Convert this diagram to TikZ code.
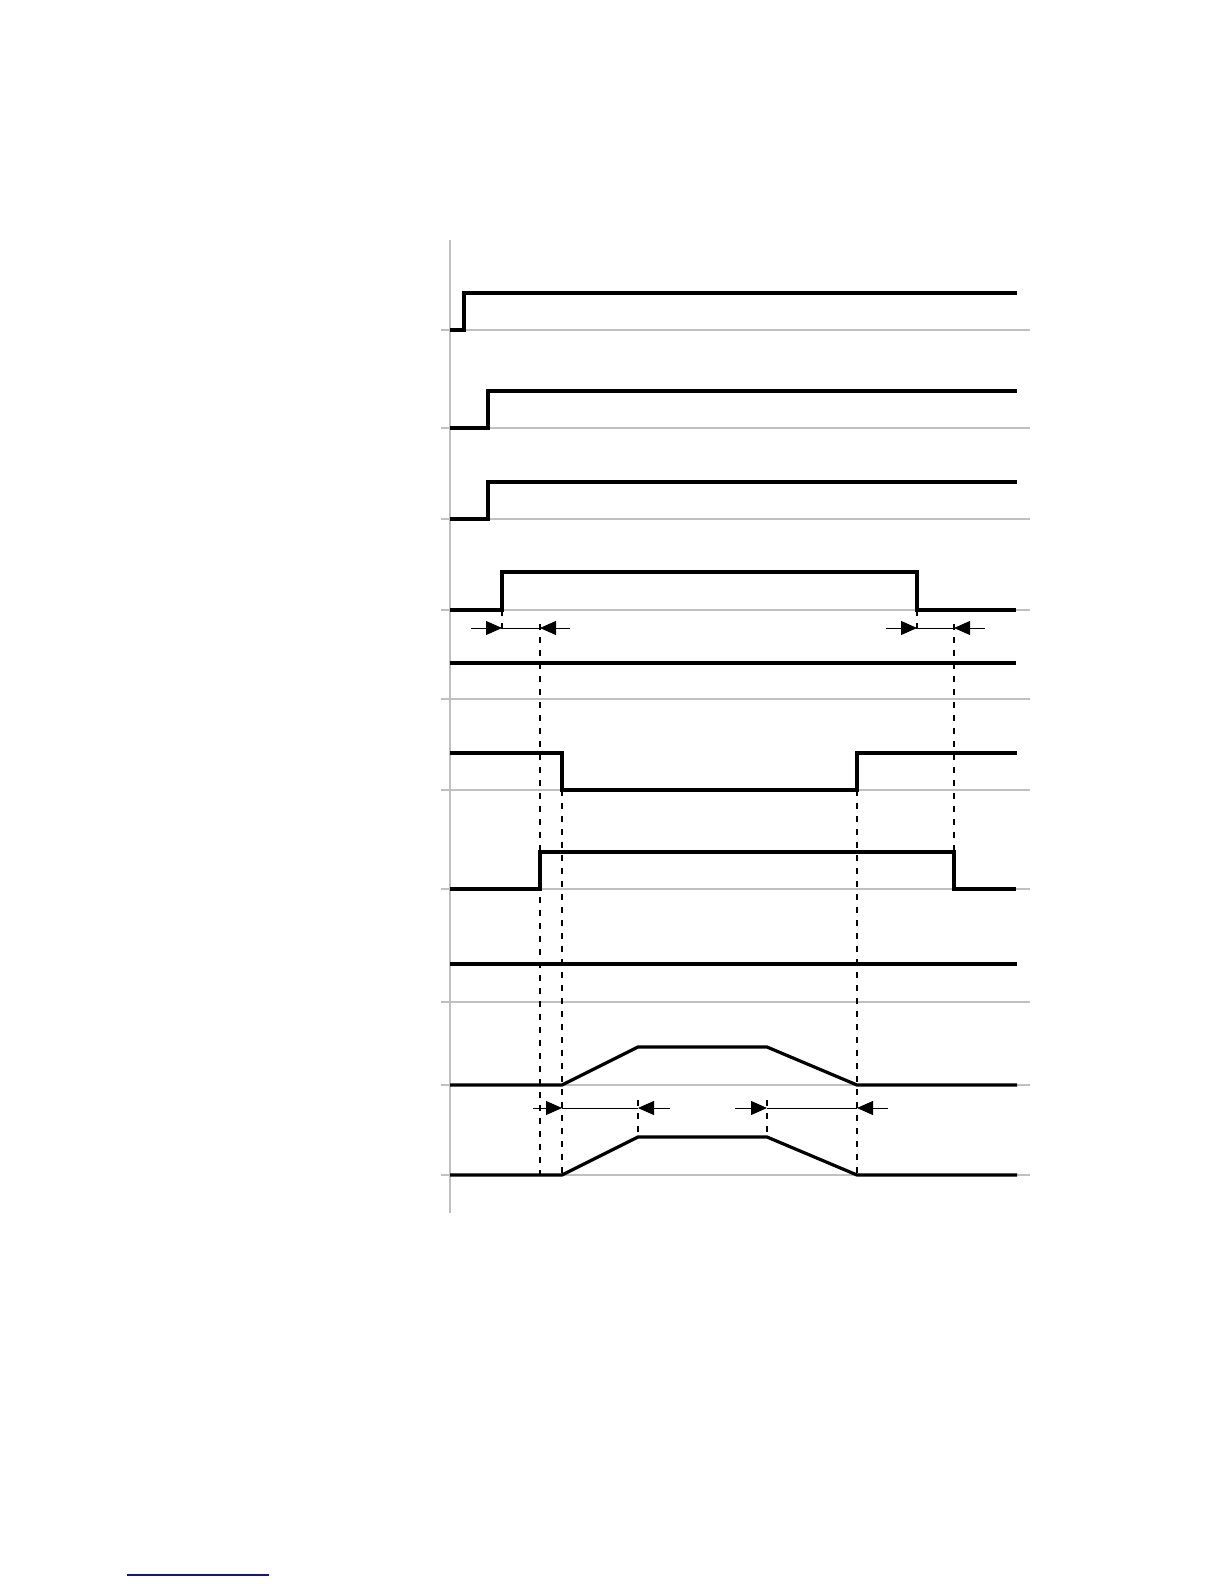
\documentclass[tikz,border=0pt]{standalone}
\usetikzlibrary{arrows.meta}
\definecolor{gridgray}{RGB}{192,192,192}
\definecolor{linkblue}{RGB}{20,20,140}

\begin{document}
\begin{tikzpicture}[x=0.5pt, y=-0.5pt, >={Triangle[length=8pt,width=7pt]},
  sig/.style={line width=1.6pt, line join=miter},
  base/.style={draw=gridgray, line width=0.75pt},
  guide/.style={dash pattern=on 3pt off 3.5pt, line width=0.7pt},
  dim/.style={line width=0.5pt}]
\useasboundingbox (0,0) rectangle (1224,1584);

% axis and baselines
\draw[base] (450,240) -- (450,1213);
\foreach \y in {330,428,519,610,699,790,889,1002,1085,1175}
  \draw[base] (441,\y) -- (1030,\y);

% signals
\draw[sig] (450,330) -- (464,330) -- (464,293) -- (1017,293);
\draw[sig] (450,428) -- (488,428) -- (488,391) -- (1017,391);
\draw[sig] (450,519) -- (488,519) -- (488,482) -- (1017,482);
\draw[sig] (450,610) -- (502,610) -- (502,572) -- (917,572) -- (917,610) -- (1016,610);
\draw[sig] (450,663) -- (1016,663);
\draw[sig] (450,753) -- (562,753) -- (562,790) -- (857,790) -- (857,753) -- (1017,753);
\draw[sig] (450,889) -- (540,889) -- (540,852) -- (954,852) -- (954,889) -- (1016,889);
\draw[sig] (450,964) -- (1017,964);
\draw[sig] (450,1085) -- (562,1085) -- (638,1047) -- (767,1047) -- (857,1085) -- (1017,1085);
\draw[sig] (450,1175) -- (562,1175) -- (638,1137) -- (767,1137) -- (857,1175) -- (1017,1175);

% guide lines
\draw[guide] (502,610) -- (502,634);
\draw[guide] (917,610) -- (917,634);
\draw[guide] (540,624) -- (540,1175);
\draw[guide] (954,624) -- (954,852);
\draw[guide] (562,790) -- (562,1175);
\draw[guide] (857,790) -- (857,1175);
\draw[guide] (638,1100) -- (638,1137);
\draw[guide] (767,1100) -- (767,1137);

% delays
\draw[dim,->] (471,628) -- (502,628);
\draw[dim] (502,628) -- (540,628);
\draw[dim,->] (570,628) -- (540,628);
\draw[dim,->] (886,628) -- (917,628);
\draw[dim] (917,628) -- (954,628);
\draw[dim,->] (985,628) -- (954,628);
\draw[dim,->] (533,1108) -- (562,1108);
\draw[dim] (562,1108) -- (638,1108);
\draw[dim,->] (670,1108) -- (638,1108);
\draw[dim,->] (735,1108) -- (767,1108);
\draw[dim] (767,1108) -- (857,1108);
\draw[dim,->] (888,1108) -- (857,1108);

\draw[linkblue, line width=0.6pt] (127,1575) -- (269,1575);
\end{tikzpicture}
\end{document}
